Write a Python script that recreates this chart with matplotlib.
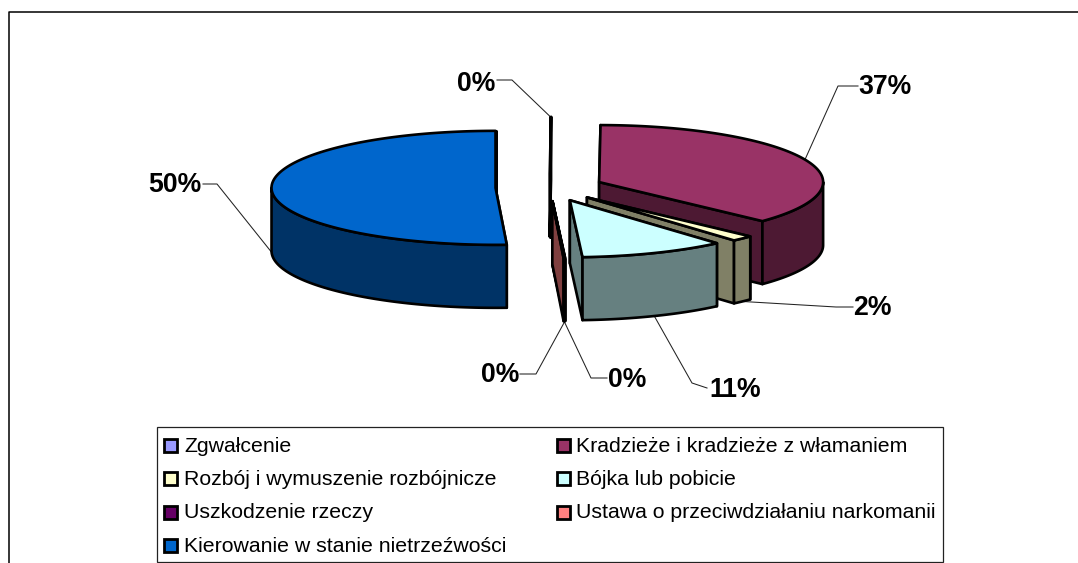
import numpy as np
import matplotlib
matplotlib.use("Agg")
import matplotlib.pyplot as plt
from matplotlib.patches import Polygon, Rectangle

categories = [
    "Zgwałcenie",
    "Kradzieże i kradzieże z włamaniem",
    "Rozbój i wymuszenie rozbójnicze",
    "Bójka lub pobicie",
    "Uszkodzenie rzeczy",
    "Ustawa o przeciwdziałaniu narkomanii",
    "Kierowanie w stanie nietrzeźwości",
]
shares = [0.1, 36.9, 1.6, 10.5, 0.03, 0.07, 50.8]
pct_labels = ["0%", "37%", "2%", "11%", "0%", "0%", "50%"]
top_colors = ["#9999FF", "#993366", "#FFFFCC", "#CCFFFF", "#660066", "#FF8080", "#0066CC"]
wall_colors = ["#4C4C80", "#4D1933", "#808066", "#668080", "#330033", "#804040", "#003366"]

# pie geometry, in pixels of the 1078x563 picture
cx, cy = 549.5, 187.5
rx, ry = 224, 57
depth = 63
explode = 54 / 224

# label centre and leader elbow for every slice
label_pos = [(476, 84), (885, 87), (872, 308), (735, 390), (500, 375), (627, 380), (175, 185)]
elbows = [
    [(512, 80), (497, 80)],
    [(838, 86), (858, 86)],
    [(836, 307), (853, 307)],
    [(692, 383), (707, 388)],
    [(536, 374), (520, 374)],
    [(591, 378), (607, 378)],
    [(217, 184), (203, 184)],
]

plt.rcParams["font.family"] = ["Liberation Sans", "DejaVu Sans"]

fig = plt.figure(figsize=(10.78, 5.63), dpi=100)
ax = fig.add_axes([0, 0, 1, 1])
ax.set_xlim(0, 1078)
ax.set_ylim(563, 0)
ax.axis("off")


def pt(ax0, ay0, theta, dz=0):
    # theta is in radians, clockwise from 12 o'clock
    return (ax0 + rx * np.sin(theta), ay0 - ry * np.cos(theta) + dz)


def face(points, color, z):
    ax.add_patch(Polygon(points, closed=True, facecolor=color, edgecolor="black",
                         linewidth=1.9, joinstyle="round", zorder=z))


# chart frame, open on the right and at the bottom
ax.plot([8.5, 8.5, 1078], [563, 11.5, 11.5], color="black", lw=1.1, zorder=1)

edges = np.cumsum([0] + shares) / sum(shares) * 2 * np.pi
for i in range(len(shares)):
    t0, t1 = edges[i], edges[i + 1]
    mid = (t0 + t1) / 2
    ax0 = cx + explode * rx * np.sin(mid)
    ay0 = cy - explode * ry * np.cos(mid)
    z = 10 + i

    # radial walls first, then the round wall (front half only), then the top
    for t in (t0, t1):
        face([(ax0, ay0), pt(ax0, ay0, t), pt(ax0, ay0, t, depth), (ax0, ay0 + depth)],
             wall_colors[i], z)
    a, b = max(t0, np.pi / 2), min(t1, 3 * np.pi / 2)
    if b > a:
        ts = np.linspace(a, b, 80)
        upper = [pt(ax0, ay0, t) for t in ts]
        lower = [pt(ax0, ay0, t, depth) for t in ts[::-1]]
        face(upper + lower, wall_colors[i], z)
    ts = np.linspace(t0, t1, 150)
    face([(ax0, ay0)] + [pt(ax0, ay0, t) for t in ts], top_colors[i], z)

    # leader from the slice edge to the label
    dz = depth if np.cos(mid) < 0 else 0
    sx, sy = pt(ax0, ay0, mid, dz)
    xs = [sx] + [p[0] for p in elbows[i]]
    ys = [sy] + [p[1] for p in elbows[i]]
    ax.plot(xs, ys, color="#222222", lw=0.75, zorder=5)
    ax.text(label_pos[i][0], label_pos[i][1], pct_labels[i], fontsize=19.2, fontweight="bold",
            ha="center", va="center", color="black", zorder=30)

# legend
ax.add_patch(Rectangle((157, 427), 786, 135, facecolor="white", edgecolor="#222222",
                       linewidth=0.9, zorder=2))
rows = [445, 478.5, 512, 545.5]
for i, name in enumerate(categories):
    col, row = i % 2, i // 2
    sx = 164 if col == 0 else 557
    tx = 184 if col == 0 else 576
    ax.add_patch(Rectangle((sx, rows[row] - 6.5), 13, 13, facecolor=top_colors[i],
                           edgecolor="black", linewidth=2.0, zorder=3))
    ax.text(tx, rows[row] + 1, name, fontsize=15.35, ha="left", va="center", color="black", zorder=3)

fig.savefig("out.png", dpi=100)
